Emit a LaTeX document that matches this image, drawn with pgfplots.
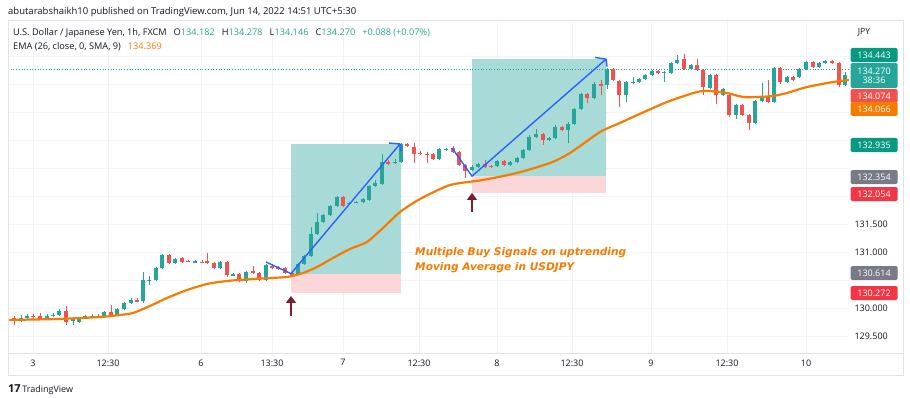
\documentclass[border=0pt]{standalone}
\usepackage{pgfplots}
\pgfplotsset{compat=1.18}
\usepackage{pgfplotstable}
\usepackage{fontspec}
\setmainfont{Open Sans}
\newfontfamily\annfont{DejaVu Sans}
\usetikzlibrary{arrows.meta}
\definecolor{upc}{HTML}{26A69A}
\definecolor{dnc}{HTML}{EF5350}
\definecolor{emac}{HTML}{F57C00}
\definecolor{bluel}{HTML}{2962FF}
\definecolor{tvtext}{HTML}{131722}
\definecolor{gridc}{HTML}{F0F3FA}
\definecolor{framec}{HTML}{E0E3EB}
\definecolor{tgtc}{HTML}{A8DBD7}
\definecolor{stopc}{HTML}{FCD7DA}
\definecolor{arrowc}{HTML}{7A1F2B}
\definecolor{labteal}{HTML}{089981}
\definecolor{labgray}{HTML}{787B86}
\definecolor{labred}{HTML}{F23645}

\pgfplotstableread{
x o h l c
21 129.786 129.875 129.750 129.821
27 129.821 129.893 129.786 129.857
47 129.821 129.893 129.804 129.857
53 129.857 129.911 129.839 129.875
59 129.875 129.982 129.857 129.946
73 129.786 129.839 129.696 129.795
79 129.750 129.839 129.732 129.821
85 129.821 129.875 129.804 129.857
92 129.839 129.893 129.821 129.866
104 129.839 129.946 129.821 129.929
117 129.875 130.000 129.857 129.982
124 129.982 130.107 129.964 130.089
131 130.089 130.179 130.071 130.143
143 130.125 130.643 130.089 130.500
149 130.491 130.571 130.411 130.500
156 130.500 130.732 130.482 130.714
162 130.714 130.964 130.696 130.946
175 130.804 130.893 130.786 130.875
195 130.821 130.857 130.804 130.830
220 130.714 130.839 130.696 130.821
233 130.589 130.625 130.571 130.607
246 130.482 130.661 130.446 130.643
266 130.500 130.786 130.482 130.768
298 130.607 130.804 130.589 130.786
304 130.786 130.946 130.768 130.929
311 130.929 131.446 130.911 131.321
317 131.321 131.696 131.304 131.536
323 131.536 131.679 131.518 131.661
330 131.661 131.839 131.643 131.821
337 131.821 132.000 131.804 131.982
349 131.866 131.893 131.857 131.875
356 131.884 131.911 131.875 131.893
363 131.893 131.964 131.875 131.946
369 131.929 132.196 131.911 132.179
375 132.179 132.286 132.161 132.232
382 132.214 132.750 132.196 132.607
395 132.598 132.661 132.571 132.607
401 132.607 132.946 132.589 132.929
439 132.661 132.857 132.643 132.839
446 132.830 132.857 132.804 132.839
472 132.464 132.554 132.446 132.518
478 132.518 132.589 132.500 132.571
497 132.536 132.643 132.518 132.625
510 132.554 132.625 132.536 132.607
517 132.607 132.696 132.589 132.679
523 132.679 132.839 132.661 132.821
529 132.821 133.089 132.804 133.054
536 133.054 133.196 133.036 133.107
549 133.000 133.054 132.982 133.036
555 133.036 133.268 133.018 133.232
568 133.179 133.321 132.946 133.286
574 133.286 133.571 133.268 133.554
581 133.554 133.839 133.536 133.821
594 133.750 134.036 133.732 134.000
607 133.982 134.286 133.911 134.268
626 133.804 134.054 133.679 134.036
633 134.027 134.125 134.000 134.036
639 134.036 134.107 134.018 134.089
645 134.089 134.179 134.071 134.161
652 134.161 134.250 134.143 134.232
664 134.205 134.232 134.036 134.214
671 134.196 134.393 134.179 134.375
677 134.375 134.518 134.357 134.429
691 134.268 134.357 134.250 134.339
710 133.929 134.179 133.911 134.161
723 133.804 133.929 133.786 133.911
736 133.446 133.643 133.375 133.625
755 133.304 133.714 133.286 133.696
762 133.696 134.018 133.679 133.768
774 133.679 134.304 133.661 134.286
787 134.036 134.143 134.018 134.125
799 134.125 134.286 134.107 134.268
806 134.268 134.411 134.250 134.393
819 134.304 134.393 134.286 134.375
825 134.375 134.429 134.357 134.411
845 133.982 134.214 133.964 134.161
}\upcandles

\pgfplotstableread{
x o h l c
7 129.839 129.875 129.750 129.786
14 129.821 129.857 129.696 129.768
33 129.857 129.893 129.804 129.839
40 129.857 129.911 129.786 129.804
66 129.946 130.036 129.696 129.750
98 129.866 129.893 129.821 129.839
111 129.929 130.054 129.857 129.875
137 130.152 130.179 130.107 130.116
169 130.946 130.964 130.786 130.804
182 130.893 130.911 130.804 130.821
188 130.839 130.857 130.821 130.830
202 130.821 130.857 130.804 130.813
207 130.839 130.982 130.786 130.804
214 130.804 130.821 130.696 130.714
227 130.821 130.839 130.554 130.589
239 130.607 130.625 130.464 130.482
253 130.661 130.750 130.607 130.625
259 130.625 130.643 130.482 130.500
272 130.750 130.786 130.696 130.714
278 130.732 130.750 130.679 130.696
285 130.714 130.732 130.607 130.625
292 130.625 130.643 130.589 130.607
343 131.982 132.000 131.804 131.821
388 132.607 132.643 132.554 132.571
407 132.929 132.946 132.875 132.893
414 132.875 132.946 132.589 132.750
420 132.768 132.804 132.732 132.759
427 132.750 132.786 132.589 132.741
433 132.750 132.768 132.643 132.661
453 132.857 132.893 132.768 132.786
459 132.786 132.804 132.536 132.554
465 132.554 132.571 132.321 132.446
485 132.571 132.643 132.500 132.518
491 132.536 132.554 132.500 132.527
504 132.625 132.643 132.536 132.554
543 133.107 133.125 132.911 133.000
562 133.232 133.250 133.161 133.179
587 133.821 133.839 133.661 133.750
601 134.000 134.071 133.804 133.982
613 134.268 134.286 134.054 134.071
619 134.054 134.071 133.589 133.804
658 134.232 134.250 134.179 134.196
684 134.446 134.536 134.250 134.268
697 134.339 134.446 134.232 134.250
703 134.250 134.268 133.804 133.946
716 134.161 134.179 133.643 133.804
729 133.804 133.821 133.411 133.446
742 133.625 133.643 133.429 133.446
749 133.446 133.464 133.179 133.304
768 133.768 134.071 133.661 133.679
780 134.286 134.304 134.000 134.036
793 134.125 134.143 134.054 134.071
813 134.393 134.411 134.286 134.304
832 134.411 134.429 134.357 134.375
839 134.375 134.393 133.946 133.982
}\dncandles

\pgfplotstableread{
x ema
7 129.786
60 129.804
100 129.839
120 129.875
133 129.911
150 130.036
167 130.179
187 130.321
207 130.429
227 130.482
253 130.518
287 130.554
303 130.625
317 130.732
333 130.893
350 131.054
367 131.179
383 131.429
400 131.714
420 131.946
450 132.196
483 132.286
517 132.411
550 132.589
570 132.768
600 133.143
620 133.304
633 133.411
667 133.679
697 133.857
710 133.875
727 133.839
743 133.768
757 133.768
773 133.786
787 133.839
807 133.946
833 134.036
849 134.071
}\ema

\begin{document}
\begin{tikzpicture}
\useasboundingbox (0pt,0pt) rectangle (910pt,397pt);
\fill[white] (0pt,0pt) rectangle (910pt,397pt);
\begin{axis}[
  at={(8pt,44pt)}, anchor=south west, scale only axis,
  width=841pt, height=333pt,
  xmin=8, xmax=849, ymin=129.196, ymax=135.143,
  axis line style={draw=none}, major tick length=0pt,
  xtick={33,108,201,272,343,419,497,572,651,727,806},
  xticklabels={3,12:30,6,13:30,7,12:30,8,12:30,9,12:30,10},
  ytick={129.5,130,130.5,131,131.5,132,132.5,133,133.5,134,134.5},
  yticklabels={129.500,130.000,,131.000,131.500,,,,,,},
  yticklabel pos=right,
  grid=major, grid style={gridc, line width=0.6pt},
  xticklabel style={font=\fontsize{9}{10}\selectfont, text=tvtext, yshift=-3pt},
  yticklabel style={font=\fontsize{9}{10}\selectfont, text=tvtext, xshift=2pt},
  /pgf/number format/assume math mode=true,
  cand/.style={draw=none, mark=none},
]
% position boxes
\addplot[fill=tgtc, draw=none] coordinates {(291,130.614) (401,130.614) (401,132.935) (291,132.935)} --cycle;
\addplot[fill=stopc, draw=none] coordinates {(291,130.272) (401,130.272) (401,130.614) (291,130.614)} --cycle;
\addplot[fill=tgtc, draw=none] coordinates {(472,132.354) (606,132.354) (606,134.443) (472,134.443)} --cycle;
\addplot[fill=stopc, draw=none] coordinates {(472,132.054) (606,132.054) (606,132.354) (472,132.354)} --cycle;
% current price line
\addplot[upc, dotted, line width=0.7pt] coordinates {(8,134.270) (849,134.270)};
% wicks
\addplot[cand, error bars/.cd, y dir=both, y explicit, error mark=none,
  error bar style={line width=0.9pt, draw=upc}]
  table[x=x, y expr={(\thisrow{h}+\thisrow{l})/2}, y error expr={(\thisrow{h}-\thisrow{l})/2}] {\upcandles};
\addplot[cand, error bars/.cd, y dir=both, y explicit, error mark=none,
  error bar style={line width=0.9pt, draw=dnc}]
  table[x=x, y expr={(\thisrow{h}+\thisrow{l})/2}, y error expr={(\thisrow{h}-\thisrow{l})/2}] {\dncandles};
% bodies
\addplot[cand, error bars/.cd, y dir=both, y explicit, error mark=none,
  error bar style={line width=4.2pt, draw=upc}]
  table[x=x, y expr={(\thisrow{o}+\thisrow{c})/2}, y error expr={max(abs(\thisrow{c}-\thisrow{o})/2,0.007)}] {\upcandles};
\addplot[cand, error bars/.cd, y dir=both, y explicit, error mark=none,
  error bar style={line width=4.2pt, draw=dnc}]
  table[x=x, y expr={(\thisrow{o}+\thisrow{c})/2}, y error expr={max(abs(\thisrow{c}-\thisrow{o})/2,0.007)}] {\dncandles};
% EMA
\addplot[emac, line width=2.2pt, smooth, tension=0.4] table[x=x, y=ema] {\ema};
% blue trend arrows
\addplot[bluel, line width=1.4pt, line join=round] coordinates {(266,130.821) (291,130.614) (400,132.929)};
\addplot[bluel, line width=1.4pt, line join=round] coordinates {(389,132.945) (400,132.929) (401,132.80)};
\addplot[bluel, line width=1.4pt, line join=round] coordinates {(452,132.857) (472,132.354) (606,134.443)};
\addplot[bluel, line width=1.4pt, line join=round] coordinates {(595,134.475) (606,134.443) (607,134.31)};
% red up arrows
\draw[arrowc, line width=2.6pt, -{Triangle[length=7pt,width=10pt]}] (axis cs:291,129.857) -- (axis cs:291,130.214);
\draw[arrowc, line width=2.6pt, -{Triangle[length=7pt,width=10pt]}] (axis cs:472,131.714) -- (axis cs:472,132.054);
% annotation
\node[anchor=west, inner sep=0pt, text=emac, font=\annfont\bfseries\itshape\fontsize{10.6}{12}\selectfont] at (axis cs:415,130.982) {Multiple Buy Signals on uptrending};
\node[anchor=west, inner sep=0pt, text=emac, font=\annfont\bfseries\itshape\fontsize{10.6}{12}\selectfont] at (axis cs:415,130.714) {Moving Average in USDJPY};
\end{axis}
\begin{scope}[x=1pt,y=1pt]
% frame
\draw[framec, line width=0.7pt] (8,377) rectangle (903,22);
\draw[framec, line width=0.7pt] (8,44) -- (903,44);
% header
\node[anchor=west, inner sep=0pt, text=tvtext, font=\fontsize{9.5}{11}\selectfont] at (8,385) {abutarabshaikh10 published on TradingView.com, Jun 14, 2022 14:51 UTC+5:30};
\node[anchor=west, inner sep=0pt, text=tvtext, font=\fontsize{9.2}{10}\selectfont] at (13,364) {U.S. Dollar / Japanese Yen, 1h, FXCM\hspace{7pt}O\textcolor{upc}{134.182}\hspace{7pt}H\textcolor{upc}{134.278}\hspace{7pt}L\textcolor{upc}{134.146}\hspace{7pt}C\textcolor{upc}{134.270}\hspace{7pt}\textcolor{upc}{+0.088 (+0.07\%)}};
\node[anchor=west, inner sep=0pt, text=tvtext, font=\fontsize{9.2}{10}\selectfont] at (13,350) {EMA (26, close, 0, SMA, 9)\hspace{7pt}\textcolor{emac}{134.369}};
% price scale labels
\node[text=tvtext, font=\fontsize{8.6}{10}\selectfont] at (864,365) {JPY};
\tikzset{plab/.style={minimum width=47pt, minimum height=14pt, inner sep=0pt, rounded corners=1.5pt, text=white, font=\fontsize{9}{10}\selectfont}}
\node[plab, fill=labteal] at (874,342) {134.443};
\node[plab, fill=upc, minimum height=25pt, align=center] at (874,321.5) {134.270\\[-1pt]38:36};
\node[plab, fill=dnc] at (874,301) {134.074};
\node[plab, fill=emac] at (874,288) {134.066};
\node[plab, fill=labteal] at (874,252) {132.935};
\node[plab, fill=labgray] at (874,220) {132.354};
\node[plab, fill=labred] at (874,203) {132.054};
\node[plab, fill=labgray] at (874,124) {130.614};
\node[plab, fill=labred] at (874,104) {130.272};
% logo
\node[anchor=west, inner sep=0pt, text=tvtext, font=\fontsize{9}{11}\selectfont] at (8,7) {{\fontsize{11}{11}\selectfont\bfseries 17}\,TradingView};
\end{scope}
\end{tikzpicture}
\end{document}
